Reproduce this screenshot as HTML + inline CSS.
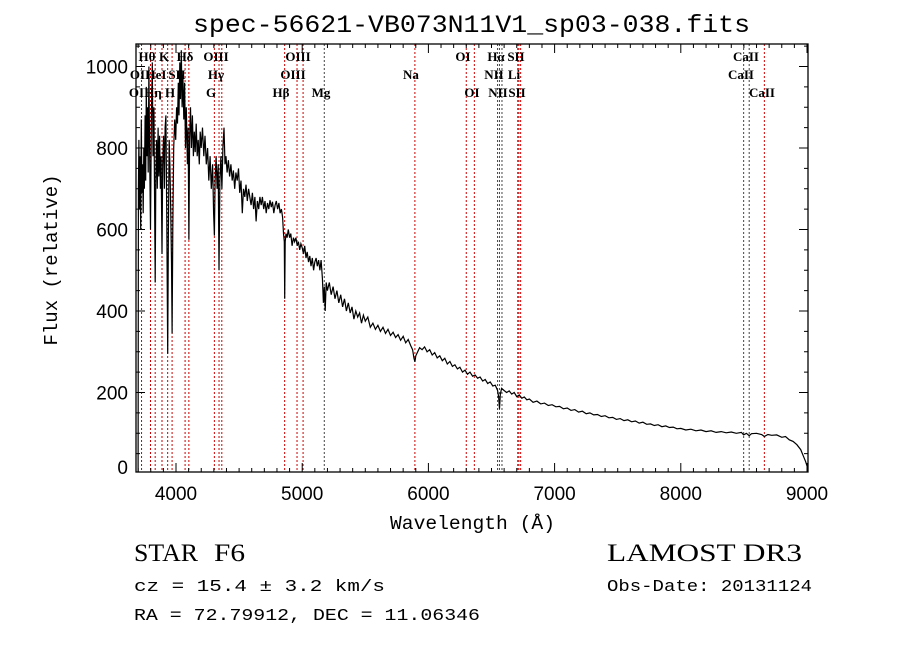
<!DOCTYPE html>
<html><head><meta charset="utf-8">
<style>
html,body{margin:0;padding:0;background:#fff;}
svg{display:block;}
.tk{font-family:"Liberation Sans",sans-serif;font-size:19px;fill:#000;}
.mono{font-family:"Liberation Mono",monospace;fill:#000;}
.serif{font-family:"Liberation Serif",serif;fill:#000;}
.lab{font-family:"Liberation Serif",serif;font-size:13px;fill:#000;font-weight:bold;}
</style></head>
<body>
<svg id="chart" width="900" height="649" viewBox="0 0 900 649">
<text class="mono" x="193" y="32" font-size="25" textLength="557" lengthAdjust="spacingAndGlyphs">spec-56621-VB073N11V1_sp03-038.fits</text>
<g id="lines"></g>
<g id="labels"></g>
<path id="spec" fill="none" stroke="#000" stroke-width="1.2"/>
<rect x="136" y="44" width="672" height="428" fill="none" stroke="#000" stroke-width="1.3"/>
<g id="axes"></g>
<text class="mono" x="390" y="529" font-size="19" textLength="165" lengthAdjust="spacingAndGlyphs">Wavelength (Å)</text>
<text class="mono" x="57" y="260" font-size="19" text-anchor="middle" transform="rotate(-90 57 260)">Flux (relative)</text>
<text class="serif" x="134" y="561" font-size="25" textLength="64" lengthAdjust="spacingAndGlyphs">STAR</text>
<text class="serif" x="214" y="561" font-size="25" textLength="31" lengthAdjust="spacingAndGlyphs">F6</text>
<text class="serif" x="607" y="561" font-size="25" textLength="195" lengthAdjust="spacingAndGlyphs">LAMOST DR3</text>
<text class="mono" x="134" y="591" font-size="17" textLength="251" lengthAdjust="spacingAndGlyphs">cz = 15.4 ± 3.2 km/s</text>
<text class="mono" x="607" y="591" font-size="17" textLength="205" lengthAdjust="spacingAndGlyphs">Obs-Date: 20131124</text>
<text class="mono" x="134" y="620" font-size="17" textLength="346" lengthAdjust="spacingAndGlyphs">RA =  72.79912, DEC =  11.06346</text>
</svg>
<script>
const wl=[3700,3702,3706,3710,3715,3720,3725,3730,3735,3740,3745,3750,3755,3760,3765,3770,3775,3780,3785,3790,3798,3805,3812,3818,3825,3830,3835,3840,3846,3852,3858,3864,3870,3876,3882,3889,3895,3902,3908,3914,3920,3926,3934,3940,3946,3952,3958,3964,3969,3975,3982,3990,3998,4005,4012,4018,4024,4030,4036,4042,4048,4055,4062,4068,4075,4082,4090,4096,4102,4108,4115,4122,4130,4138,4145,4152,4160,4168,4176,4185,4192,4200,4210,4220,4230,4240,4250,4260,4270,4280,4290,4298,4304,4310,4318,4326,4334,4341,4348,4356,4364,4372,4380,4388,4396,4405,4415,4425,4435,4445,4455,4465,4475,4485,4495,4505,4515,4525,4535,4545,4555,4565,4575,4585,4595,4605,4615,4625,4635,4645,4655,4665,4675,4685,4695,4705,4715,4725,4735,4745,4755,4765,4775,4785,4795,4805,4815,4825,4835,4845,4852,4858,4861,4865,4872,4880,4890,4900,4910,4920,4930,4940,4950,4960,4970,4980,4990,5000,5010,5020,5030,5040,5050,5060,5070,5080,5090,5100,5110,5120,5130,5140,5150,5160,5168,5175,5182,5190,5200,5215,5230,5245,5260,5275,5290,5305,5320,5335,5350,5365,5380,5395,5410,5425,5440,5455,5470,5485,5500,5520,5540,5560,5580,5600,5620,5640,5660,5680,5700,5720,5740,5760,5780,5800,5820,5840,5860,5875,5885,5893,5900,5915,5930,5950,5970,5990,6010,6030,6050,6070,6090,6110,6130,6150,6170,6190,6210,6230,6250,6270,6290,6310,6330,6350,6370,6390,6410,6430,6450,6470,6490,6510,6530,6548,6556,6563,6570,6580,6600,6620,6640,6660,6680,6700,6720,6740,6760,6780,6800,6830,6860,6890,6920,6950,6980,7010,7040,7070,7100,7130,7160,7190,7220,7250,7280,7310,7340,7370,7400,7430,7460,7490,7520,7550,7580,7610,7640,7670,7700,7730,7760,7790,7820,7850,7880,7910,7940,7970,8000,8040,8080,8120,8160,8200,8240,8280,8320,8360,8400,8440,8480,8498,8520,8542,8560,8600,8640,8662,8690,8720,8760,8800,8830,8860,8890,8920,8950,8970,8990,9000];
const flux=[0,700,820,650,780,600,870,690,760,640,800,700,880,720,950,780,900,740,1000,820,600,880,1010,780,900,700,470,720,820,700,850,730,830,700,780,540,760,830,700,850,880,650,295,600,820,760,650,520,345,600,800,870,820,900,860,960,880,1010,920,1040,900,980,870,960,800,900,760,850,575,820,900,800,880,780,840,790,860,780,820,760,840,800,850,780,830,760,800,720,780,700,760,640,585,720,780,700,760,500,720,780,700,800,850,760,780,740,770,730,760,720,745,700,740,720,750,690,720,640,700,680,710,670,700,680,660,690,650,680,620,670,650,680,660,680,650,670,640,665,650,672,655,668,640,660,670,650,665,640,650,630,590,570,430,570,590,580,600,580,590,560,580,570,580,560,570,550,565,555,540,560,530,545,520,535,510,530,500,520,530,510,525,500,525,480,420,460,400,470,450,470,440,460,430,450,420,440,410,430,400,420,395,410,380,400,385,395,370,390,375,385,360,370,355,365,350,360,345,355,340,348,335,342,328,338,322,330,315,305,285,275,290,300,310,305,312,300,305,292,298,285,290,278,284,270,276,264,268,258,262,250,255,245,250,240,243,235,238,228,232,222,226,216,218,205,190,160,195,210,205,200,204,196,200,190,194,186,189,182,184,176,179,172,174,168,170,165,166,160,162,156,158,152,154,148,150,145,146,141,143,138,139,134,136,131,133,128,130,125,127,122,123,119,121,116,118,114,115,111,112,108,110,106,108,104,106,102,104,101,103,100,102,96,100,94,99,100,97,92,97,95,96,90,92,84,80,72,60,45,30,20];
const lineWl=[3727,3798,3835,3889,3934,3969,4072,4102,4304,4341,4363,4861,4959,5007,5175,5893,6300,6364,6548,6563,6583,6708,6717,6731,8498,8542,8662];
const lineDark=[0,0,0,0,0,0,0,0,0,0,0,0,0,0,1,0,0,0,1,1,1,0,0,0,1,1,0];
const xTicks=[4000,5000,6000,7000,8000,9000];
const yTicks=[0,200,400,600,800,1000];
const NS="http://www.w3.org/2000/svg";
const X=w=>176+(w-4000)*0.1262;
const Y=v=>474-0.4075*v;
const L=136,R=808,T=44,B=472;
function mk(tag,attrs,parent){const e=document.createElementNS(NS,tag);for(const k in attrs)e.setAttribute(k,attrs[k]);parent.appendChild(e);return e;}
let d="";wl.forEach((w,i)=>{d+=(i?"L":"M")+X(w).toFixed(1)+","+Math.min(B,Y(flux[i])).toFixed(1);});
document.getElementById("spec").setAttribute("d",d);
const lg=document.getElementById("lines");
lineWl.forEach((w,i)=>{const e=mk("line",{x1:X(w),x2:X(w),y1:T,y2:B,stroke:lineDark[i]?"#444":"#c00",'stroke-width':1,'stroke-dasharray':"2,2"},lg);

});
const labs=[["Hθ",147,57],["K",164,57],["Hδ",185,57],["OIII",216,57],["OIII",298,57],["OI",463,57],["Hα",496,57],["SII",516,57],["CaII",746,57],
["OII",140,75],["HeI",156,75],["SII",177,75],["Hγ",216,75],["OIII",293,75],["Na",411,75],["NII",494,75],["Li",514,75],["CaII",741,75],
["OII",139,93],["Hη",153,93],["H",170,93],["G",211,93],["Hβ",281,93],["Mg",321,93],["OI",472,93],["NII",498,93],["SII",517,93],["CaII",762,93]];
const lb=document.getElementById("labels");
labs.forEach(a=>{const t=mk("text",{x:a[1],y:a[2]+4,'text-anchor':"middle",class:"lab"},lb);t.textContent=a[0];

});
const ax=document.getElementById("axes");
for(let w=3700;w<=9000;w+=100){const big=w%1000===0;const x=X(w);if(x<L||x>R)continue;
mk("line",{x1:x,x2:x,y1:B,y2:B-(big?9:4),stroke:"#000"},ax);mk("line",{x1:x,x2:x,y1:T,y2:T+(big?9:4),stroke:"#000"},ax);}
xTicks.forEach(w=>{const t=mk("text",{x:X(w),y:500,'text-anchor':"middle",class:"tk"},ax);t.textContent=w;

});
for(let v=0;v<=1050;v+=50){const big=v%200===0;const y=Y(v);if(y<T||y>B)continue;
mk("line",{x1:L,x2:L+(big?9:4),y1:y,y2:y,stroke:"#000"},ax);mk("line",{x1:R,x2:R-(big?9:4),y1:y,y2:y,stroke:"#000"},ax);}
yTicks.forEach(v=>{const t=mk("text",{x:128,y:Math.min(Y(v)+7,474),'text-anchor':"end",class:"tk"},ax);t.textContent=v;

});
</script>
</body></html>
